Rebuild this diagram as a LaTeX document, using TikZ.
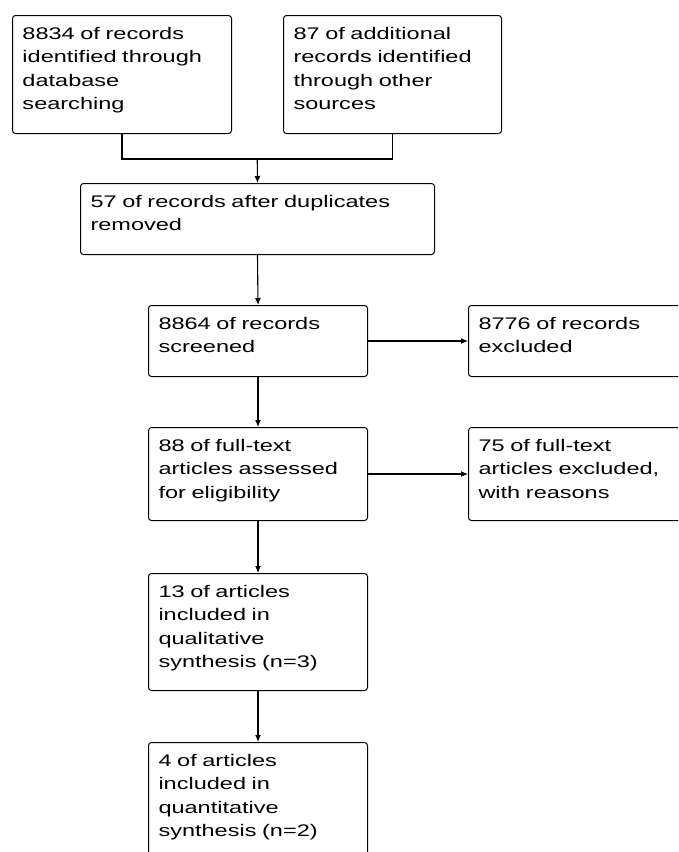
\documentclass[tikz,border=0pt]{standalone}
\usepackage{fontspec}
\setmainfont{Liberation Sans}[FakeStretch=1.4]
\usepackage{tikz}
\usetikzlibrary{calc, arrows.meta}

\begin{document}
\begin{tikzpicture}[x=1pt, y=1pt, >={Latex[length=7pt,width=6pt]},
  box/.style={draw, line width=1pt, rounded corners=3pt, anchor=north west,
    align=left, inner xsep=10pt, inner ysep=10pt, text height=14pt,
    font=\fontsize{16.8}{23.3}\selectfont},
  link/.style={line width=1.1pt}]
  % page frame (the last box runs off the bottom edge)
  \clip (0,0) rectangle (678,-852);
  % identification
  \node[box, text width=199pt, text depth=84pt] (db) at (12,-15)
    {8834 of records\\identified through\\database\\searching};
  \node[box, text width=198pt, text depth=84pt] (other) at (283,-15)
    {87 of additional\\records identified\\through other\\sources};
  \node[box, text width=334pt, text depth=37pt] (dup) at (80,-183)
    {57 of records after duplicates\\removed};
  % screening
  \node[box, text width=199pt, text depth=37pt] (screen) at (148,-305)
    {8864 of records\\screened};
  \node[box, text width=199pt, text depth=37pt] (excl) at (468,-305)
    {8776 of records\\excluded};
  % eligibility
  \node[box, text width=199pt, text depth=59pt] (full) at (148,-427)
    {88 of full-text\\articles assessed\\for eligibility};
  \node[box, text width=199pt, text depth=59pt] (fullex) at (468,-427)
    {75 of full-text\\articles excluded,\\with reasons};
  % included
  \node[box, text width=199pt, text depth=83pt] (qual) at (148,-573)
    {13 of articles\\included in\\qualitative\\synthesis (n=3)};
  \node[box, text width=199pt, text depth=83pt] (quant) at (148,-742)
    {4 of articles\\included in\\quantitative\\synthesis (n=2)};
  % connectors
  \coordinate (join) at ($(db.south)!0.5!(other.south)+(0,-25)$);
  \draw[link] (db.south) |- (join) -| (other.south);
  \draw[link,->] (join) -- (dup.north);
  \draw[link,->] (dup.south) -- (screen.north);
  \draw[link,->] (screen.east) -- (excl.west);
  \draw[link,->] (screen.south) -- (full.north);
  \draw[link,->] (full.east) -- (fullex.west);
  \draw[link,->] (full.south) -- (qual.north);
  \draw[link,->] (qual.south) -- (quant.north);
\end{tikzpicture}
\end{document}
